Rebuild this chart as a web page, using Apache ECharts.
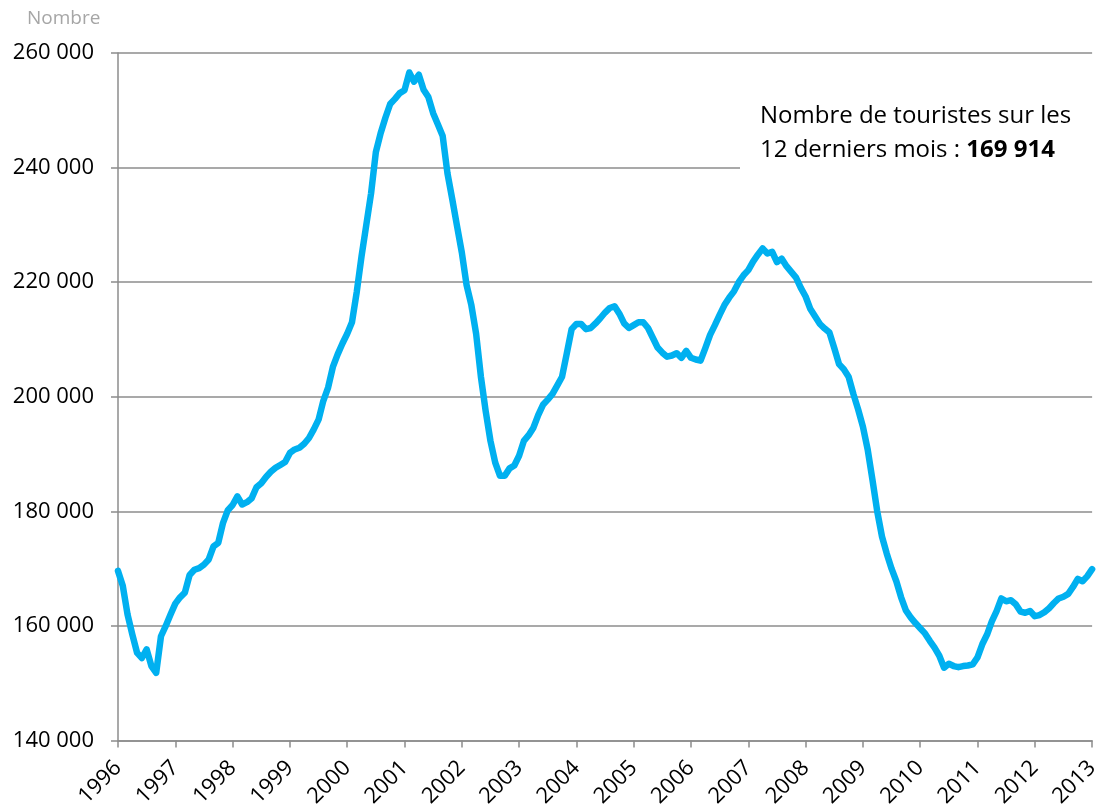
<!DOCTYPE html>
<html>
<head>
<meta charset="utf-8">
<title>Nombre de touristes</title>
<script src="https://cdn.jsdelivr.net/npm/echarts@6/dist/echarts.min.js"></script>
<style>
    html, body {margin: 0; padding: 0; background: #fff;}
    #chart {width: 1102px; height: 810px;}
</style>
</head>
<body>
<div id="chart"></div>
<script>
// cumul des 12 derniers mois, un tableau par année (janvier -> décembre)
var years = ['1996', '1997', '1998', '1999', '2000', '2001', '2002', '2003', '2004',
    '2005', '2006', '2007', '2008', '2009', '2010', '2011', '2012', '2013'];
var v1996 = [169600, 167000, 162000, 158500, 155300, 154400, 155900, 153000, 151800, 158200, 160000, 162000];
var v1997 = [163900, 165000, 165800, 168900, 169800, 170100, 170700, 171600, 173900, 174500, 178000, 180200];
var v1998 = [181100, 182600, 181200, 181600, 182300, 184200, 184900, 186000, 186900, 187600, 188100, 188600];
var v1999 = [190200, 190800, 191100, 191800, 192800, 194300, 196000, 199300, 201600, 205200, 207400, 209300];
var v2000 = [211000, 213000, 218300, 224500, 230000, 235500, 242700, 246000, 248700, 251100, 252000, 253000];
var v2001 = [253500, 256600, 255000, 256200, 253600, 252300, 249500, 247500, 245500, 239000, 234500, 229800];
var v2002 = [225200, 219500, 216000, 211000, 203500, 197500, 192300, 188500, 186200, 186200, 187500, 188000];
var v2003 = [189700, 192300, 193300, 194600, 196800, 198600, 199500, 200500, 202000, 203500, 207600, 211800];
var v2004 = [212700, 212700, 211800, 212000, 212800, 213700, 214700, 215500, 215800, 214500, 212800, 212000];
var v2005 = [212500, 213000, 213000, 212000, 210300, 208600, 207700, 207000, 207200, 207600, 206800, 208000];
var v2006 = [206800, 206500, 206300, 208500, 210800, 212500, 214300, 216000, 217300, 218400, 220000, 221200];
var v2007 = [222100, 223600, 224800, 225900, 225000, 225300, 223500, 224100, 222800, 221800, 220800, 219000];
var v2008 = [217500, 215300, 214000, 212700, 211900, 211200, 208500, 205700, 204800, 203500, 200500, 197800];
var v2009 = [194800, 190800, 185500, 180000, 175600, 172600, 170000, 167800, 165000, 162700, 161500, 160500];
var v2010 = [159600, 158700, 157400, 156200, 154800, 152700, 153400, 153000, 152800, 153000, 153100, 153300];
var v2011 = [154500, 156800, 158500, 160800, 162600, 164800, 164300, 164500, 163800, 162500, 162300, 162600];
var v2012 = [161700, 161900, 162400, 163100, 164000, 164800, 165100, 165600, 166800, 168200, 167800, 168700];
var v2013 = [169914];

var yTicks = {min: 140000, max: 260000, step: 20000};

var values = [].concat(v1996, v1997, v1998, v1999, v2000, v2001, v2002, v2003, v2004,
    v2005, v2006, v2007, v2008, v2009, v2010, v2011, v2012, v2013);

// une catégorie par mois, seule l'année est affichée (janvier)
var months = [];
years.forEach(function(y){
    for (var m = 1; m <= 12; m++) {
        if (months.length < values.length) months.push(y + '-' + m);
    }
});

function fmtNumber(n){
    return String(n).replace(/\B(?=(\d{3})+(?!\d))/g, ' ');
}

var gridColor = '#8c8c8c';
var font = '"Open Sans", Lato, sans-serif';

var myChart = echarts.init(document.getElementById('chart'));
var option = {
    animation: false,
    backgroundColor: '#fff',
    textStyle: {fontFamily: font},
    grid: {left: 118, right: 5, top: 53, bottom: 67},
    title: {
        left: 740,
        top: 87,
        backgroundColor: '#fff',
        padding: [12, 80, 20, 20],
        text: 'Nombre de touristes sur les\n12 derniers mois : {b|' + fmtNumber(v2013[0]) + '}',
        textStyle: {
            fontFamily: font,
            fontSize: 24,
            fontWeight: 'normal',
            color: '#000',
            lineHeight: 34,
            rich: {
                b: {fontFamily: font, fontSize: 24, fontWeight: 'bold', color: '#000', lineHeight: 34}
            }
        }
    },
    graphic: [{
        type: 'text',
        left: 27,
        top: 9,
        style: {text: 'Nombre', fill: '#a6a6a6', font: '19px ' + font}
    }],
    xAxis: {
        type: 'category',
        data: months,
        boundaryGap: false,
        axisLine: {show: true, lineStyle: {color: gridColor, width: 1.5}},
        axisTick: {show: true, interval: 11, length: 7, lineStyle: {color: gridColor, width: 1.5}},
        axisLabel: {
            interval: 11,
            rotate: 45,
            margin: 24,
            fontSize: 22,
            color: '#000',
            fontFamily: font,
            formatter: function(val){ return val.split('-')[0]; }
        },
        splitLine: {show: false}
    },
    yAxis: {
        type: 'value',
        min: yTicks.min,
        max: yTicks.max,
        interval: yTicks.step,
        axisLine: {show: true, lineStyle: {color: gridColor, width: 1.5}},
        axisTick: {show: true, length: 7, lineStyle: {color: gridColor, width: 1.5}},
        axisLabel: {
            margin: 24,
            fontSize: 22,
            color: '#000',
            fontFamily: font,
            formatter: function(val){ return fmtNumber(val); }
        },
        splitLine: {show: true, lineStyle: {color: gridColor, width: 1.5}}
    },
    series: [{
        type: 'line',
        data: values,
        showSymbol: false,
        smooth: false,
        lineStyle: {color: '#00B0F0', width: 6.5, join: 'round', cap: 'round'},
        itemStyle: {color: '#00B0F0'}
    }]
};
myChart.setOption(option);
</script>
</body>
</html>
